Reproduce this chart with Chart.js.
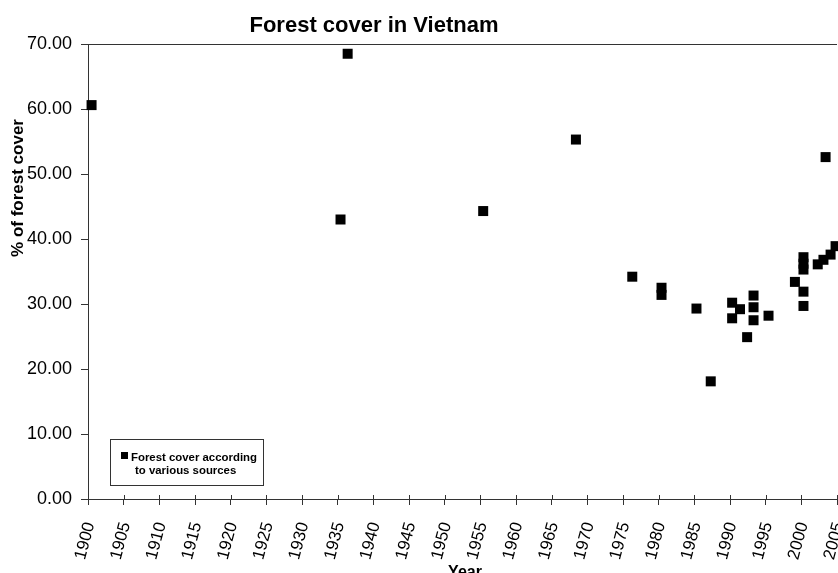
<!DOCTYPE html>
<html>
<head>
<meta charset="utf-8">
<title>Forest cover in Vietnam</title>
<script src="https://cdn.jsdelivr.net/npm/chart.js@4.4.1/dist/chart.umd.min.js"></script>
<style>
    html, body { margin: 0; padding: 0; background: #ffffff; overflow: hidden; }
    #wrap { position: relative; width: 838px; height: 573px; }
</style>
</head>
<body>
<div id="wrap"><canvas id="forestChart" width="838" height="573"></canvas></div>
<script>
// Values (year, % of forest cover)
const years = [
    1900.5, 1935.4, 1936.4, 1955.4, 1968.4, 1976.3, 1980.4, 1980.4,
    1985.3, 1987.3, 1990.3, 1990.3, 1991.4, 1992.4, 1993.3, 1993.3,
    1993.3, 1995.4, 1999.1, 2000.3, 2000.3, 2000.3, 2000.3, 2000.3,
    2002.3, 2003.1, 2003.4, 2004.1, 2004.8
];
const forestCover = [
    60.6, 43.0, 68.5, 44.3, 55.3, 34.2, 32.5, 31.4,
    29.3, 18.1, 30.2, 27.8, 29.2, 24.9, 31.3, 29.5,
    27.5, 28.2, 33.4, 37.2, 36.2, 35.3, 31.9, 29.7,
    36.1, 36.8, 52.6, 37.6, 38.9
];
const xRange = [1900, 2005];
const yRange = [0, 70];
const xStep = 5;
const yStep = 10;

const seriesLabel = 'Forest cover according to various sources';
const chartTitle = 'Forest cover in Vietnam';
const xTitle = 'Year';
const yTitle = '% of forest cover';

const FONT = '"Liberation Sans", Arial, sans-serif';
const AXIS_COLOR = '#333333';

/**
 * Excel style decorations: title, axis titles, inner tick marks and legend box
 */
const excelDecor = {
    id: 'excelDecor',
    afterDraw(chart) {
        const ctx = chart.ctx;
        const area = chart.chartArea;
        const xScale = chart.scales.x;

        ctx.save();

        // tick marks crossing into the plot area
        ctx.strokeStyle = AXIS_COLOR;
        ctx.lineWidth = 1;
        ctx.beginPath();
        xScale.ticks.forEach(t => {
            const px = Math.round(xScale.getPixelForValue(t.value)) + 0.5;
            ctx.moveTo(px, area.bottom);
            ctx.lineTo(px, area.bottom - 4);
        });
        ctx.stroke();

        ctx.fillStyle = '#000000';

        // chart title
        ctx.font = 'bold 22px ' + FONT;
        ctx.textAlign = 'center';
        ctx.textBaseline = 'alphabetic';
        ctx.fillText(chartTitle, 374, 31.5);

        // x axis title (cut by the bottom edge as in the original)
        ctx.font = 'bold 16px ' + FONT;
        ctx.fillText(xTitle, 465, 577);

        // y axis title
        ctx.save();
        ctx.translate(23, 188);
        ctx.rotate(-Math.PI / 2);
        ctx.font = 'bold 17px ' + FONT;
        ctx.fillText(yTitle, 0, 0);
        ctx.restore();

        // legend box
        const box = { x: 110.5, y: 439.5, w: 153, h: 46 };
        ctx.fillStyle = '#ffffff';
        ctx.fillRect(box.x, box.y, box.w, box.h);
        ctx.strokeStyle = AXIS_COLOR;
        ctx.strokeRect(box.x, box.y, box.w, box.h);

        const ds = chart.data.datasets[0];
        ctx.fillStyle = ds.backgroundColor;
        ctx.fillRect(121, 452, 7, 7);

        ctx.fillStyle = '#000000';
        ctx.font = 'bold 11.4px ' + FONT;
        ctx.textAlign = 'left';
        const words = ds.label.split(' ');
        ctx.fillText(words.slice(0, 3).join(' '), 131, 460.5);
        ctx.fillText(words.slice(3).join(' '), 135, 473.5);

        ctx.restore();
    }
};

const points = years.map((yr, i) => ({ x: yr, y: forestCover[i] }));

const ctx = document.getElementById('forestChart').getContext('2d');
new Chart(ctx, {
    type: 'scatter',
    data: {
        datasets: [{
            label: seriesLabel,
            data: points,
            pointStyle: 'rect',
            pointRadius: 7.07,
            pointHoverRadius: 7.07,
            backgroundColor: '#000000',
            borderWidth: 0,
            clip: false
        }]
    },
    options: {
        responsive: false,
        animation: false,
        devicePixelRatio: 1,
        layout: {
            autoPadding: false,
            padding: { top: 44, right: 1, left: 0, bottom: 0 }
        },
        plugins: {
            legend: { display: false },
            title: { display: false },
            tooltip: { enabled: false }
        },
        scales: {
            x: {
                type: 'linear',
                min: xRange[0],
                max: xRange[1],
                grid: {
                    drawOnChartArea: false,
                    tickLength: 6,
                    tickColor: AXIS_COLOR
                },
                border: { color: AXIS_COLOR },
                ticks: {
                    stepSize: xStep,
                    autoSkip: false,
                    minRotation: 75,
                    maxRotation: 75,
                    padding: 15,
                    labelOffset: 2,
                    color: '#000000',
                    font: { family: FONT, size: 17 },
                    callback: v => String(v)
                },
                afterFit(scale) {
                    scale.height = 74;
                    scale.paddingRight = 0;
                    scale.paddingLeft = 0;
                }
            },
            y: {
                type: 'linear',
                min: yRange[0],
                max: yRange[1],
                grid: {
                    color: c => (c.tick && c.tick.value === yRange[1]) ? AXIS_COLOR : 'rgba(0,0,0,0)',
                    tickColor: AXIS_COLOR,
                    tickLength: 7
                },
                border: { color: AXIS_COLOR },
                ticks: {
                    stepSize: yStep,
                    padding: 9,
                    color: '#000000',
                    font: { family: FONT, size: 18 },
                    callback: v => v.toFixed(2)
                },
                afterFit(scale) {
                    scale.width = 88;
                }
            }
        }
    },
    plugins: [excelDecor]
});
</script>
</body>
</html>
